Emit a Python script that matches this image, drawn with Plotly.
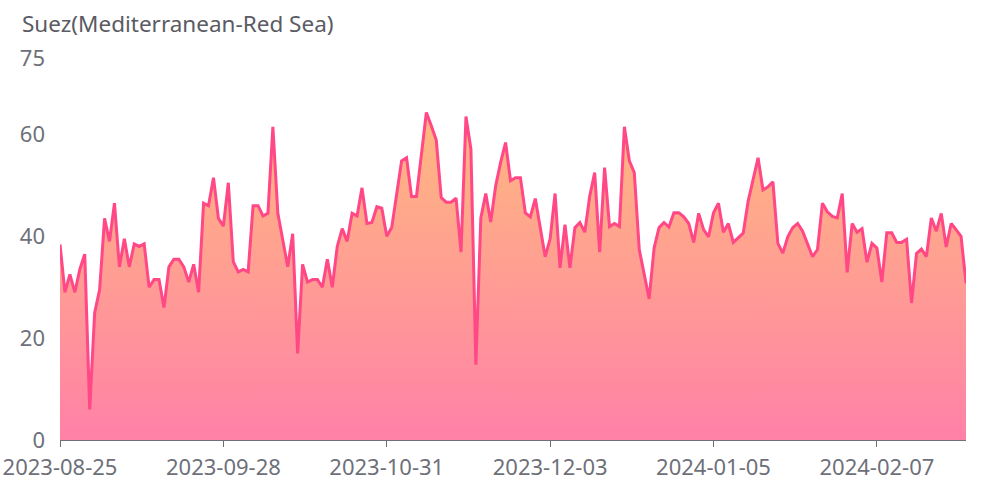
import plotly.graph_objects as go
import pandas as pd

TITLE = "Suez(Mediterranean-Red Sea)"

# daily dates (one day absent from the source data in early September)
START_DATE = "2023-08-25"
END_DATE = "2024-02-25"
MISSING_DATES = ["2023-09-03"]

VALUES = [
    38.4, 29, 32.5, 29, 33.5, 36.5, 6, 25, 29.5, 43.5,
    39, 46.5, 34, 39.5, 34, 38.5, 38, 38.5, 30, 31.5,
    31.5, 26, 34, 35.5, 35.5, 34, 31, 34.5, 29, 46.5,
    46, 51.5, 43.5, 42, 50.5, 35, 33, 33.5, 33, 46,
    46, 44, 44.5, 61.5, 44.5, 39.5, 34, 40.5, 17, 34.5,
    31, 31.5, 31.5, 30, 35.5, 30, 38, 41.5, 39, 44.5,
    44, 49.5, 42.5, 42.7, 45.8, 45.5, 40, 41.7, 48.6, 54.8,
    55.4, 47.8, 47.8, 56.4, 64.3, 61.7, 58.9, 47.6, 46.7, 46.7,
    47.5, 36.9, 63.5, 57.1, 14.8, 43.6, 48.4, 42.8, 49.9, 54.5,
    58.4, 50.9, 51.5, 51.5, 44.6, 43.8, 47.4, 41.7, 36, 39.5,
    48.4, 33.8, 42.3, 33.8, 41.7, 42.7, 40.8, 47.9, 52.5, 36.9,
    53.5, 41.9, 42.5, 41.9, 61.5, 54.8, 52.5, 37.4, 32.8, 27.7,
    37.7, 41.7, 42.7, 41.8, 44.6, 44.6, 43.8, 42.5, 38.8, 44.5,
    41.3, 39.9, 44.6, 46.5, 40.8, 42.5, 38.8, 39.7, 40.6, 46.9,
    51.2, 55.4, 49.1, 49.7, 50.7, 38.6, 36.7, 39.9, 41.7, 42.5,
    41, 38.6, 36, 37.4, 46.5, 44.8, 43.9, 43.6, 48.4, 32.9,
    42.5, 40.8, 41.5, 34.9, 38.6, 37.7, 31, 40.7, 40.7, 38.8,
    38.8, 39.4, 26.9, 36.6, 37.5, 36, 43.6, 41, 44.5, 37.9,
    42.5, 41.3, 40, 30.8,
]

X_TICK_LABELS = ["2023-08-25", "2023-09-28", "2023-10-31",
                 "2023-12-03", "2024-01-05", "2024-02-07"]
Y_TICKS = [0, 20, 40, 60, 75]
Y_MAX = 75

DATES = [d.strftime("%Y-%m-%d") for d in pd.date_range(START_DATE, END_DATE)
         if d.strftime("%Y-%m-%d") not in MISSING_DATES]
DATES = DATES[:len(VALUES)]

FONT = "Noto Sans, Open Sans, sans-serif"
TXT = "#6E7079"

fig = go.Figure()
fig.add_trace(go.Scatter(
    x=DATES, y=VALUES, mode="lines",
    line=dict(color="rgb(255,72,133)", width=3),
    fill="tozeroy",
    fillgradient=dict(
        type="vertical",
        start=0, stop=max(VALUES),
        colorscale=[[0, "rgb(255,129,167)"], [1, "rgb(255,185,127)"]],
    ),
    hoverinfo="x+y",
))

fig.update_layout(
    width=981, height=480,
    margin=dict(l=60, r=15, t=58, b=40),
    paper_bgcolor="white", plot_bgcolor="white",
    showlegend=False,
    font=dict(family=FONT, color=TXT, size=22),
)
fig.add_annotation(
    text=TITLE, xref="paper", yref="paper",
    x=(20 - 60) / 906, y=1 + (58 - 23) / 382,
    xanchor="left", yanchor="middle", showarrow=False,
    font=dict(family=FONT, size=22.5, color="#5a5b63"),
)
fig.update_xaxes(
    type="category", range=[0, len(VALUES) - 1], automargin=False,
    tickmode="array", tickvals=X_TICK_LABELS, ticktext=X_TICK_LABELS,
    showgrid=False, zeroline=False,
    showline=True, linecolor="#6E7079", linewidth=1,
    ticks="outside", ticklen=6, tickcolor="#6E7079",
    ticklabelstandoff=2,
    tickfont=dict(family=FONT, size=22, color=TXT),
)
fig.update_yaxes(
    range=[0, Y_MAX], tickmode="array", tickvals=Y_TICKS, automargin=False,
    showgrid=False, zeroline=False, showline=False,
    ticks="", ticklabelstandoff=14,
    tickfont=dict(family=FONT, size=22, color=TXT),
)

fig.write_html(
    "out.html",
    config={"displayModeBar": False},
    post_script="document.body.style.margin='0';document.body.style.overflow='hidden';",
)
